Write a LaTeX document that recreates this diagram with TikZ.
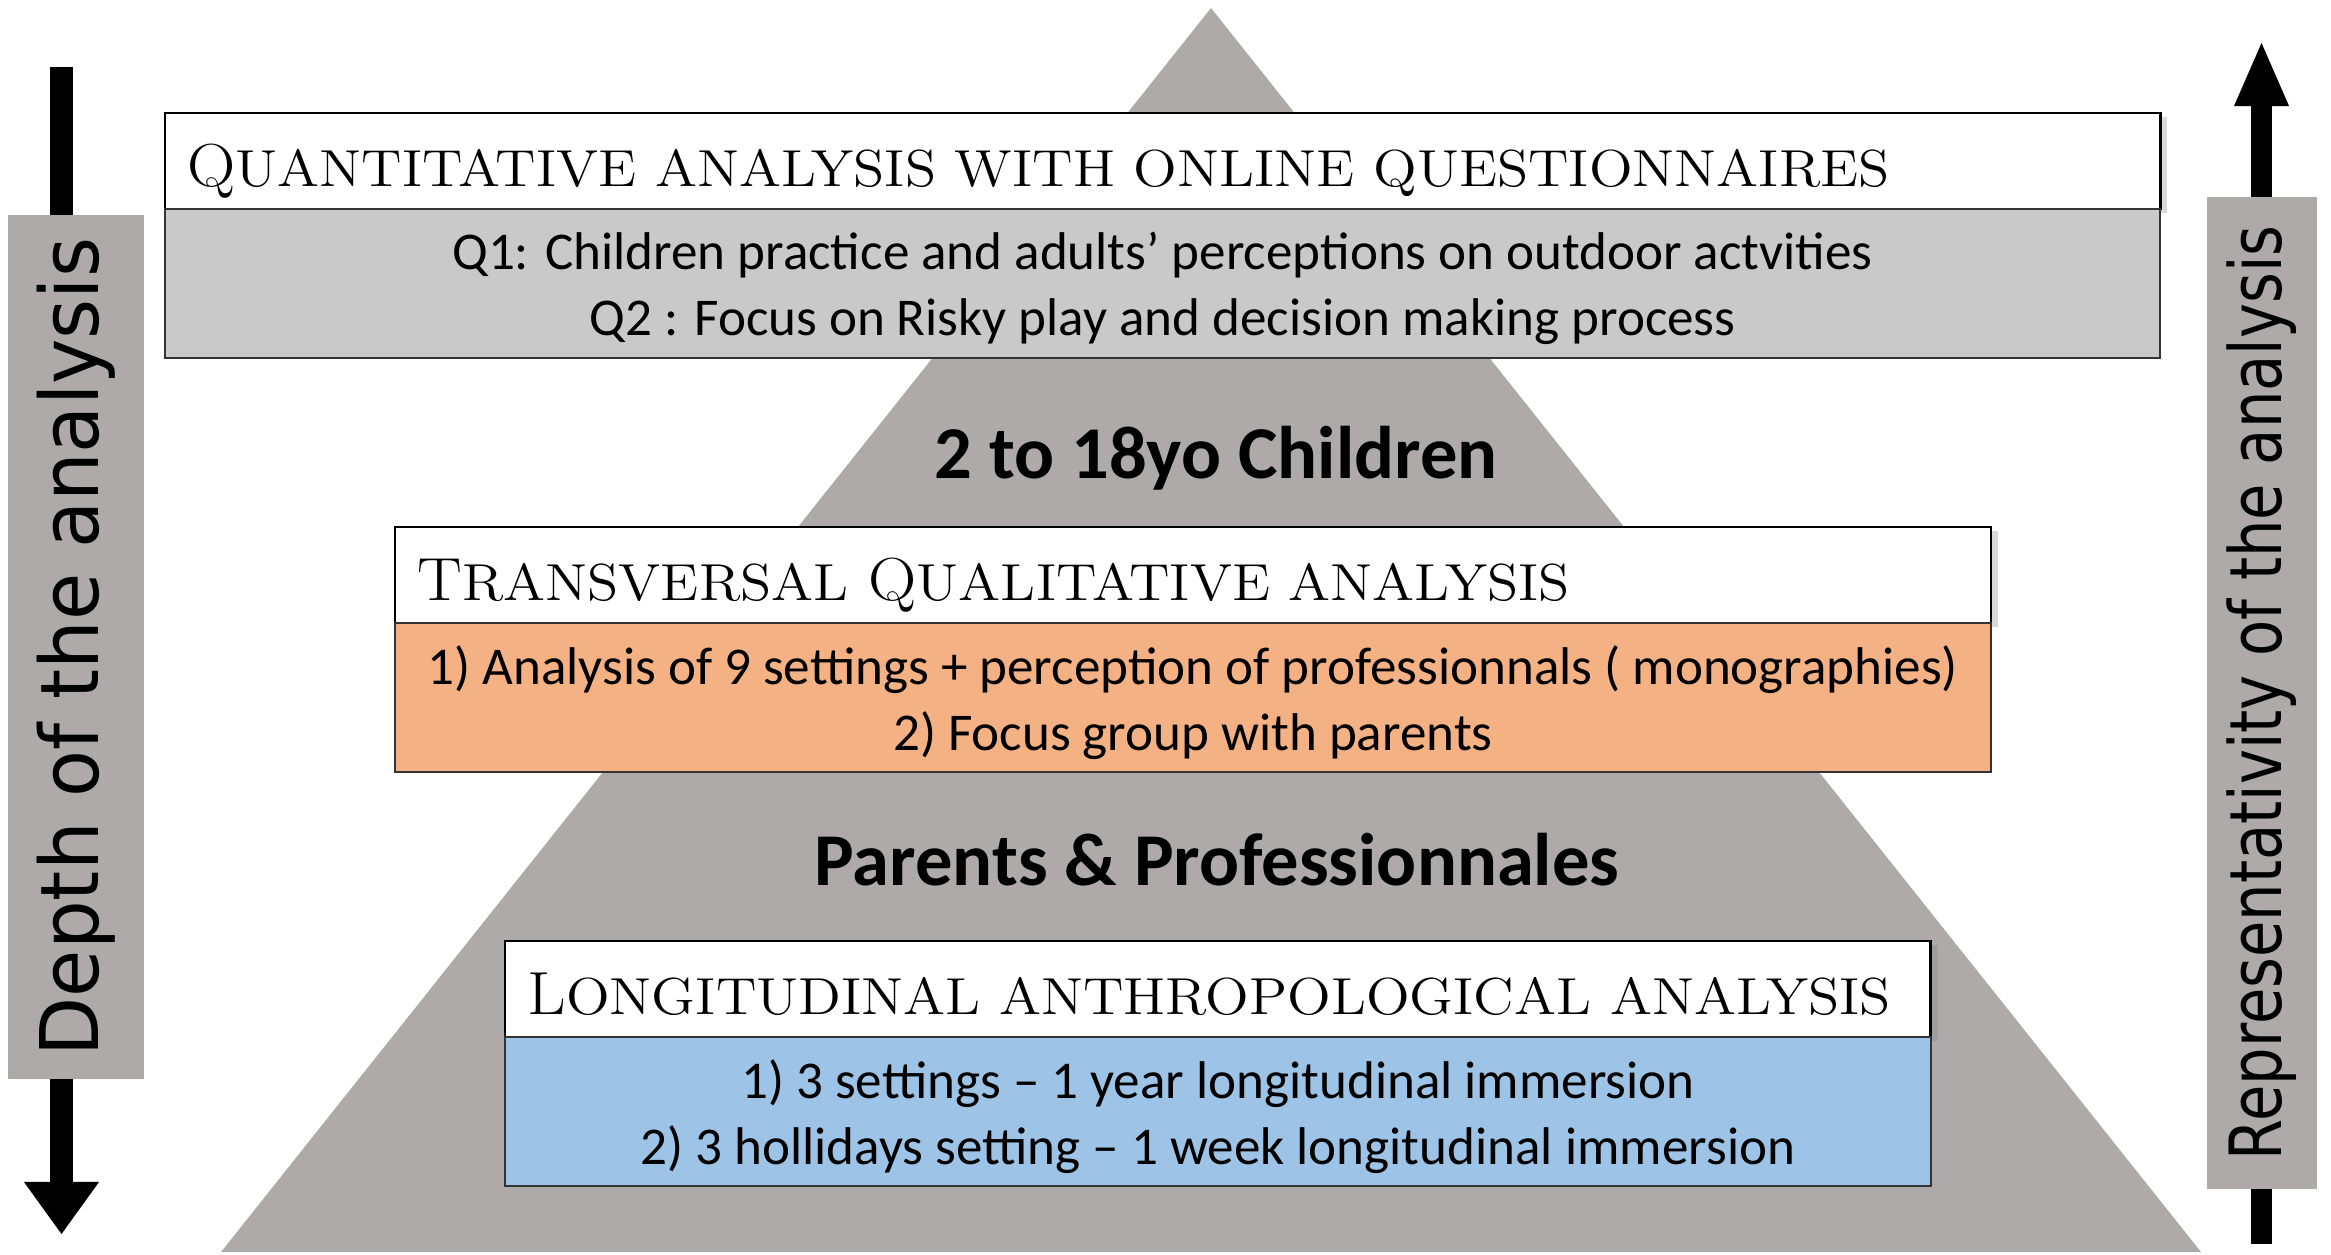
\documentclass[tikz,border=0pt]{standalone}
\usepackage{fontspec}
\usepackage{graphicx}
\usepackage{tikz}
\usetikzlibrary{arrows.meta,shadows}
\newfontfamily\bodyfont{Carlito}
\newfontfamily\sidefont{DejaVu Sans}
\definecolor{pyr}{HTML}{AEAAAA}
\definecolor{qgrey}{HTML}{C9C9C9}
\definecolor{torange}{HTML}{F4B183}
\definecolor{lblue}{HTML}{9DC3E6}
\tikzstyle{stages}=[
    hdr/.style={rectangle, draw=black, line width=0.8pt, fill=white, outer sep=0pt, inner sep=0pt,
        minimum height=0.96cm, anchor=north west,
        drop shadow={shadow xshift=0.07cm, shadow yshift=-0.04cm, opacity=0.3}},
    hdr text/.style={anchor=base west, inner sep=0pt, font={\fontsize{17.3}{20}\selectfont}},
    body/.style={rectangle, draw=black!80, line width=0.6pt, outer sep=0pt, minimum height=1.49cm,
        anchor=north},
    body text/.style={align=center, inner sep=0pt, font={\bodyfont\fontsize{15.1}{18.9}\selectfont}},
    group/.style={anchor=base, font={\bodyfont\bfseries\fontsize{21.2}{25}\selectfont}},
    side box/.style={rectangle, fill=pyr, rotate=90, inner sep=0pt, outer sep=0pt, font={\sidefont}},
    depth arrow/.style={line width=0.23cm, -{Triangle[length=0.52cm, width=0.75cm, line width=0pt]}},
    rep arrow/.style={line width=0.21cm, -{Triangle[length=0.63cm, width=0.55cm, line width=0pt]}}
]
\newcommand{\lowcaps}[1]{{\fontsize{14.8}{18}\selectfont #1}}
\newcommand{\stage}[7][]{
    \node[hdr, minimum width=#4] (#2h) at (#3) {};
    \node[hdr text, #1] (#2t) at ([xshift=0.22cm, yshift=-0.73cm]#2h.north west) {\scalebox{1.1}[1]{#6}};
    \node[body, fill=#5, minimum width=#4] (#2b) at (#2h.south) {};
    \node[body text] (#2x) at ([yshift=-0.05cm]#2b.center) {#7};
}

\begin{document}
\begin{tikzpicture}[stages, x=0.01cm, y=-0.01cm]
    \useasboundingbox (0,0) rectangle (2331,1255);
    \coordinate (apex) at (1211,8);
    \coordinate (baseL) at (221,1252);
    \coordinate (baseR) at (2201,1252);
    \fill[pyr] (apex) -- (baseR) -- (baseL) -- cycle;

    \coordinate (depthtop) at (61.5,67);
    \coordinate (depthend) at (61.5,1234);
    \coordinate (repbottom) at (2261.5,1244);
    \coordinate (repend) at (2261.5,43);
    \draw[depth arrow] (depthtop) -- (depthend);
    \draw[rep arrow] (repbottom) -- (repend);

    \node[side box, minimum width=8.64cm, minimum height=1.36cm] (depth) at (76,647)
        {\fontsize{23}{27}\selectfont\scalebox{0.95}[1]{Depth of the analysis}};
    \node[side box, minimum width=9.92cm, minimum height=1.10cm] (rep) at (2262,693)
        {\fontsize{20.5}{24}\selectfont\scalebox{0.82}[1]{Representativity of the analysis}};

    \stage{quant}{165,113}{19.94cm}{qgrey}{Q\lowcaps{UANTITATIVE ANALYSIS WITH ONLINE QUESTIONNAIRES}}
        {Q1: Children practice and adults’ perceptions on outdoor actvities\\Q2 : Focus on Risky play and decision making process}
    \node[group] (kids) at (1216,478) {2 to 18yo Children};

    \stage{trans}{395,527}{15.95cm}{torange}{T\lowcaps{RANSVERSAL} Q\lowcaps{UALITATIVE ANALYSIS}}
        {1) Analysis of 9 settings + perception of professionnals ( monographies)\\2) Focus group with parents}
    \node[group] (adults) at (1217,885) {Parents \& Professionnales};

    \stage{longi}{505,941}{14.25cm}{lblue}{L\lowcaps{ONGITUDINAL ANTHROPOLOGICAL ANALYSIS}}
        {1) 3 settings – 1 year longitudinal immersion\\2) 3 hollidays setting – 1 week longitudinal immersion}
\end{tikzpicture}
\end{document}
